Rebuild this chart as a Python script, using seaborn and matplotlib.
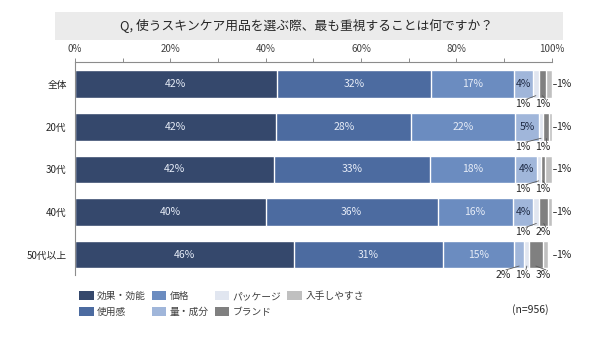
import numpy as np
import pandas as pd
import matplotlib
matplotlib.use("Agg")
import matplotlib.pyplot as plt
from matplotlib.patches import Patch, Rectangle
import seaborn as sns

categories = ["全体", "20代", "30代", "40代", "50代以上"]
series = ["効果・効能", "使用感", "価格", "量・成分", "パッケージ", "ブランド", "入手しやすさ"]

kouka = [42.3, 42.2, 41.8, 40.0, 46.0]
shiyokan = [32.4, 28.4, 32.7, 36.1, 31.2]
kakaku = [17.5, 21.7, 17.9, 15.7, 14.9]
ryo = [3.9, 5.1, 4.5, 4.4, 2.2]
package = [1.2, 0.8, 0.8, 1.2, 1.0]
brand = [1.5, 1.2, 0.9, 1.9, 2.8]
nyushu = [1.2, 0.6, 1.4, 0.7, 1.1]

kouka_lbl = [42, 42, 42, 40, 46]
shiyokan_lbl = [32, 28, 33, 36, 31]
kakaku_lbl = [17, 22, 18, 16, 15]
ryo_lbl = [4, 5, 4, 4, 2]
package_lbl = [1, 1, 1, 1, 1]
brand_lbl = [1, 1, 1, 2, 3]
nyushu_lbl = [1, 1, 1, 1, 1]

xticks = [0, 10, 20, 30, 40, 50, 60, 70, 80, 90, 100]
xticklabels = ["0%", "", "20%", "", "40%", "", "60%", "", "80%", "", "100%"]

title = "Q, 使うスキンケア用品を選ぶ際、最も重視することは何ですか？"
note = "(n=956)"

colors = ["#35486c", "#4c6ba0", "#6b8cc0", "#a0b6da", "#e1e6f0", "#808080", "#c0c0c0"]

sns.set_theme(style="white")
plt.rcParams["font.family"] = ["Noto Sans CJK JP", "DejaVu Sans"]

values = np.array([kouka, shiyokan, kakaku, ryo, package, brand, nyushu])  # (7, 5)
labels = np.array([kouka_lbl, shiyokan_lbl, kakaku_lbl, ryo_lbl, package_lbl, brand_lbl, nyushu_lbl])
cum = np.cumsum(values, axis=0)

fig = plt.figure(figsize=(6.0, 3.38), dpi=100)
ax = fig.add_axes([75 / 600, 1 - 275 / 338, (551.6 - 75) / 600, 213 / 338])

for k in reversed(range(len(series))):
    df = pd.DataFrame({"cat": categories, "val": cum[k]})
    sns.barplot(data=df, x="val", y="cat", order=categories, orient="h",
                color=colors[k], saturation=1, width=0.65, errorbar=None, ax=ax)

ax.set_xlim(0, 100)
ax.set_ylim(4.48, -0.52)
ax.set_xlabel("")
ax.set_ylabel("")

ax.xaxis.tick_top()
ax.set_xticks(xticks)
ax.set_xticklabels(xticklabels, fontsize=7, color="#404040")
ax.tick_params(axis="x", direction="out", length=3, width=0.7, color="#8c8c8c", pad=3)
ax.tick_params(axis="y", length=0, pad=6, labelsize=7, labelcolor="#262626")
for s in ["bottom", "right"]:
    ax.spines[s].set_visible(False)
for s in ["top", "left"]:
    ax.spines[s].set_color("#8c8c8c")
    ax.spines[s].set_linewidth(0.8)

below_x = {3: 89.8, 4: 94.0, 5: 98.2}
for i in range(len(categories)):
    for k in range(len(series)):
        v = values[k, i]
        left = cum[k, i] - v
        center = left + v / 2
        txt = f"{labels[k, i]}%"
        if k <= 3 and labels[k, i] >= 3:
            c = "#e6ecf7" if k < 3 else "#1f2b45"
            ax.text(center, i, txt, ha="center", va="center", fontsize=7.5, color=c)
        elif k == 6:
            ax.plot([100.25, 100.85], [i, i], color="#404040", lw=0.7, clip_on=False)
            ax.text(101.0, i, txt, ha="left", va="center", fontsize=7.5, color="#262626", clip_on=False)
        else:
            lx = below_x[k]
            ax.text(lx, i + 0.47, txt, ha="center", va="center", fontsize=7.5, color="#262626", clip_on=False)
            ax.plot([center, lx + 0.6], [i + 0.27, i + 0.36], color="#595959", lw=0.6, clip_on=False)

# title band
fig.patches.append(Rectangle((55 / 600, 1 - 40 / 338), (563 - 55) / 600, 28 / 338,
                             transform=fig.transFigure, facecolor="#ebebeb", edgecolor="none", zorder=0))
fig.text(307 / 600, 1 - 26 / 338, title, ha="center", va="center", fontsize=9.2, color="#262626")

handles = [Patch(facecolor=c, edgecolor="none") for c in colors]
fig.legend(handles, series, loc="upper left", bbox_to_anchor=(79 / 600, 1 - 291 / 338),
           ncol=4, frameon=False, fontsize=7, handlelength=1.5, handleheight=1.0,
           handletextpad=0.35, columnspacing=0.6, labelspacing=0.6, borderpad=0,
           borderaxespad=0, labelcolor="#404040")

fig.text(530 / 600, 1 - 310 / 338, note, ha="center", va="center", fontsize=7.5, color="#262626")

fig.savefig("out.png", dpi=100)
